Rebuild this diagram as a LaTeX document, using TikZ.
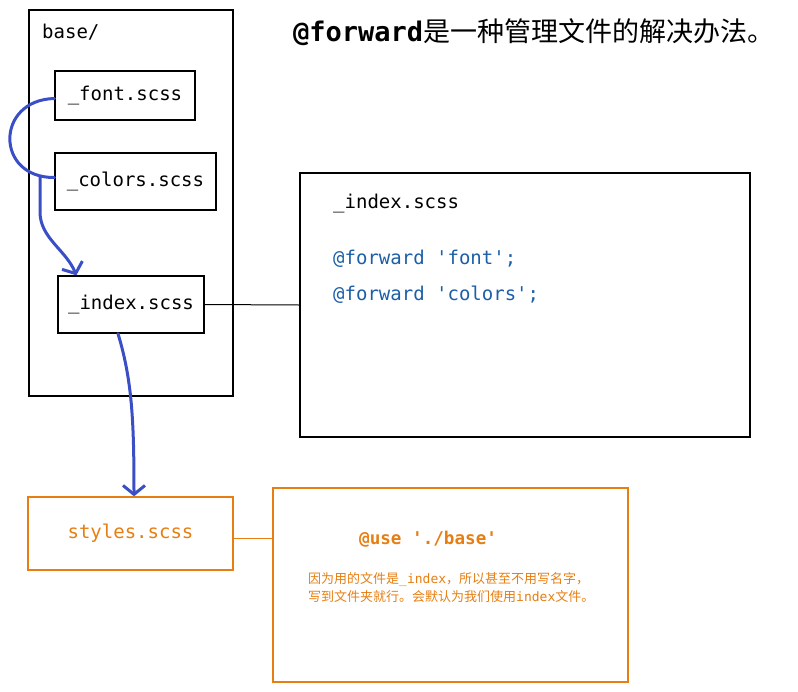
\documentclass[tikz,border=0pt]{standalone}
\usepackage{fontspec}
\setmonofont{DejaVu Sans Mono}
\newfontfamily\cjk{Noto Sans CJK SC}
\usetikzlibrary{arrows.meta}
\definecolor{linkblue}{HTML}{3A4FC6}
\definecolor{codeblue}{HTML}{1C5FA8}
\definecolor{orng}{HTML}{E67E12}
\begin{document}
\begin{tikzpicture}[x=1pt,y=-1pt,
  box/.style={draw=black, line width=1.3pt, inner sep=0pt, font=\ttfamily\fontsize{19}{23}\selectfont},
  obox/.style={draw=orng, line width=1.3pt, inner sep=0pt},
  code/.style={font=\ttfamily\fontsize{19}{23}\selectfont, inner sep=0pt, anchor=base west},
  blueline/.style={draw=linkblue, line width=3pt, line cap=round, line join=round},
  bluearrow/.style={blueline, -{Straight Barb[length=9pt,width=22pt]}}
]
\useasboundingbox (0,0) rectangle (798,691);
% base folder
\node[box, minimum width=204pt, minimum height=386pt] (base) at (131,203) {};
\node[code] (basel) at (42,38) {base/};
\node[box, minimum width=140pt, minimum height=49pt] (font) at (125,95.5) {\_font.scss};
\node[box, minimum width=161pt, minimum height=57pt] (colors) at (135.5,181.5) {\_colors.scss};
\node[box, minimum width=146pt, minimum height=57pt] (index) at (131,304.5) {\_index.scss};
% title
\node[inner sep=0pt, anchor=base west] (title) at (293,41)
  {\fontsize{27}{32}\selectfont{\ttfamily\bfseries @forward}{\cjk 是一种管理文件的解决办法。}};
% big box
\node[box, minimum width=450pt, minimum height=264pt] (big) at (525,305) {};
\node[code] (bt1) at (333,208) {\_index.scss};
\node[code, text=codeblue] (bt2) at (333,264) {@forward 'font';};
\node[code, text=codeblue] (bt3) at (333,300) {@forward 'colors';};
\draw[line width=1pt] (index.east) -- (big.west);
% styles
\node[obox, minimum width=205pt, minimum height=73pt, text=orng, font=\ttfamily\fontsize{19}{23}\selectfont] (styles) at (130.5,533.5) {styles.scss};
\node[obox, minimum width=355pt, minimum height=194pt] (use) at (450.5,585) {};
\node[inner sep=0pt, anchor=base west, text=orng, font=\ttfamily\bfseries\fontsize{17.6}{21}\selectfont] (uset) at (359,544) {@use './base'};
\node[inner sep=0pt, anchor=base west, text=orng, font=\fontsize{13}{16}\selectfont] (n1) at (308,583)
  {{\cjk 因为用的文件是}{\ttfamily\_index}{\cjk ，所以甚至不用写名字，}};
\node[inner sep=0pt, anchor=base west, text=orng, font=\fontsize{13}{16}\selectfont] (n2) at (308,601)
  {{\cjk 写到文件夹就行。会默认为我们使用}{\ttfamily index}{\cjk 文件。}};
\draw[orng, line width=1.2pt] ([yshift=-5pt]styles.east) -- ([yshift=-5pt]styles.east -| use.west);
% blue connectors
\draw[blueline] ([yshift=-3pt]font.west) .. controls (-5,100) and (-5,178) .. ([yshift=4pt]colors.west);
\coordinate (j) at (40,177);
\draw[bluearrow] (j) -- (40,212) .. controls (40,238) and (66,250) .. ([xshift=19pt]index.north west);
\draw[bluearrow] ([xshift=-13pt]index.south) .. controls (132,380) and (134,420) .. ([xshift=3.5pt]styles.north);
\end{tikzpicture}
\end{document}
